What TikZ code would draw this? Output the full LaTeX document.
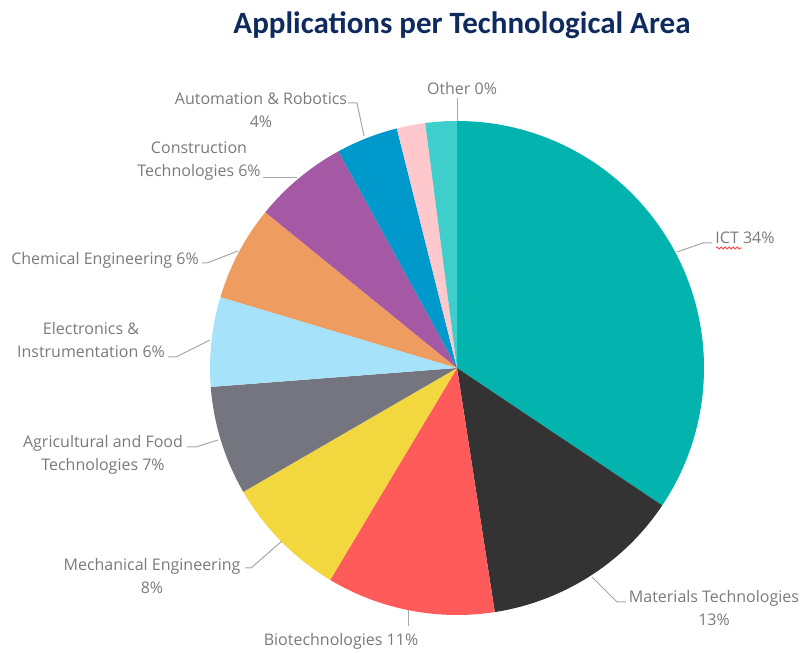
\documentclass[tikz,border=0pt]{standalone}
\usepackage{fontspec}
\setmainfont{Open Sans}
\newfontfamily\titlefont{Carlito}
\usetikzlibrary{calc,decorations.pathmorphing}
\definecolor{cICT}{HTML}{03B3AE}
\definecolor{cMat}{HTML}{333333}
\definecolor{cBio}{HTML}{FF5B5B}
\definecolor{cMech}{HTML}{F2D83E}
\definecolor{cAgri}{HTML}{75757F}
\definecolor{cElec}{HTML}{A6E3FA}
\definecolor{cChem}{HTML}{EE9C60}
\definecolor{cCons}{HTML}{A559A4}
\definecolor{cAuto}{HTML}{0099CC}
\definecolor{cPink}{HTML}{FFC8CC}
\definecolor{cOther}{HTML}{3ECFCD}
\definecolor{titleblue}{HTML}{0F2A5E}
\definecolor{labelgrey}{HTML}{7A7A7A}
\definecolor{leadgrey}{HTML}{A6A6A6}
\begin{document}
\begin{tikzpicture}[x=1pt,y=1pt,
  lbl/.style={text=labelgrey, font=\fontsize{16}{23}\selectfont, align=center, inner sep=0pt},
  leader/.style={draw=leadgrey, line width=1pt}]
\useasboundingbox (0,0) rectangle (801,653);
\coordinate (C) at (457,285);
\def\R{247}
% slices
\fill[cICT] (C) -- ++(90:\R) arc[start angle=90,end angle=-33.8,radius=\R] -- cycle;
\fill[cMat] (C) -- ++(-33.8:\R) arc[start angle=-33.8,end angle=-81.2,radius=\R] -- cycle;
\fill[cBio] (C) -- ++(-81.2:\R) arc[start angle=-81.2,end angle=-120.9,radius=\R] -- cycle;
\fill[cMech] (C) -- ++(-120.9:\R) arc[start angle=-120.9,end angle=-149.9,radius=\R] -- cycle;
\fill[cAgri] (C) -- ++(-149.9:\R) arc[start angle=-149.9,end angle=-175.6,radius=\R] -- cycle;
\fill[cElec] (C) -- ++(-175.6:\R) arc[start angle=-175.6,end angle=-196.7,radius=\R] -- cycle;
\fill[cChem] (C) -- ++(-196.7:\R) arc[start angle=-196.7,end angle=-219.1,radius=\R] -- cycle;
\fill[cCons] (C) -- ++(-219.1:\R) arc[start angle=-219.1,end angle=-241.3,radius=\R] -- cycle;
\fill[cAuto] (C) -- ++(-241.3:\R) arc[start angle=-241.3,end angle=-255.9,radius=\R] -- cycle;
\fill[cPink] (C) -- ++(-255.9:\R) arc[start angle=-255.9,end angle=-262.6,radius=\R] -- cycle;
\fill[cOther] (C) -- ++(-262.6:\R) arc[start angle=-262.6,end angle=-270,radius=\R] -- cycle;
% title
\node[text=titleblue, font=\titlefont\bfseries\fontsize{31}{34}\selectfont] (title) at (462,628) {Applications per Technological Area};
% labels
\node[lbl] (other) at (462,564) {Other 0\%};
\node[lbl] (auto) at (261,543) {Automation \& Robotics\\4\%};
\node[lbl] (cons) at (199,491.5) {Construction\\Technologies 6\%};
\node[lbl] (chem) at (105,393) {Chemical Engineering 6\%};
\node[lbl] (elec) at (91,313) {Electronics \&\\Instrumentation 6\%};
\node[lbl] (agri) at (103,198.5) {Agricultural and Food\\Technologies 7\%};
\node[lbl] (mech) at (152,76.5) {Mechanical Engineering\\8\%};
\node[lbl] (bio) at (341,12) {Biotechnologies 11\%};
\node[lbl] (mat) at (714,44.5) {Materials Technologies\\13\%};
\node[lbl] (ict) at (745,415) {ICT 34\%};
% leader coordinates
\coordinate (otherA) at (457,555); \coordinate (otherP) at (457,532);
\coordinate (autoA) at (348,550); \coordinate (autoB) at (357,550); \coordinate (autoP) at (364,517);
\coordinate (consA) at (263,475); \coordinate (consP) at (297,475);
\coordinate (chemA) at (202,390); \coordinate (chemB) at (207,390); \coordinate (chemP) at (238,402);
\coordinate (elecA) at (168,296); \coordinate (elecB) at (176,296); \coordinate (elecP) at (210,313);
\coordinate (agriA) at (187,206); \coordinate (agriB) at (196,206); \coordinate (agriP) at (218,213);
\coordinate (mechA) at (245,85); \coordinate (mechB) at (251,85); \coordinate (mechP) at (282,112);
\coordinate (bioA) at (408,27); \coordinate (bioP) at (408,43);
\coordinate (matA) at (626,51); \coordinate (matB) at (617,51); \coordinate (matP) at (592,76);
\coordinate (ictA) at (712,410); \coordinate (ictB) at (703,410); \coordinate (ictP) at (677,401);
% leaders
\draw[leader] (otherA) -- (otherP);
\draw[leader] (autoA) -- (autoB) -- (autoP);
\draw[leader] (consA) -- (consP);
\draw[leader] (chemA) -- (chemB) -- (chemP);
\draw[leader] (elecA) -- (elecB) -- (elecP);
\draw[leader] (agriA) -- (agriB) -- (agriP);
\draw[leader] (mechA) -- (mechB) -- (mechP);
\draw[leader] (bioA) -- (bioP);
\draw[leader] (matA) -- (matB) -- (matP);
\draw[leader] (ictA) -- (ictB) -- (ictP);
% spell-check squiggle
\coordinate (sqA) at (716,405); \coordinate (sqB) at (742,405);
\draw[red!80, line width=0.7pt, decorate, decoration={snake, amplitude=1.2pt, segment length=4pt}] (sqA) -- (sqB);
\end{tikzpicture}
\end{document}
